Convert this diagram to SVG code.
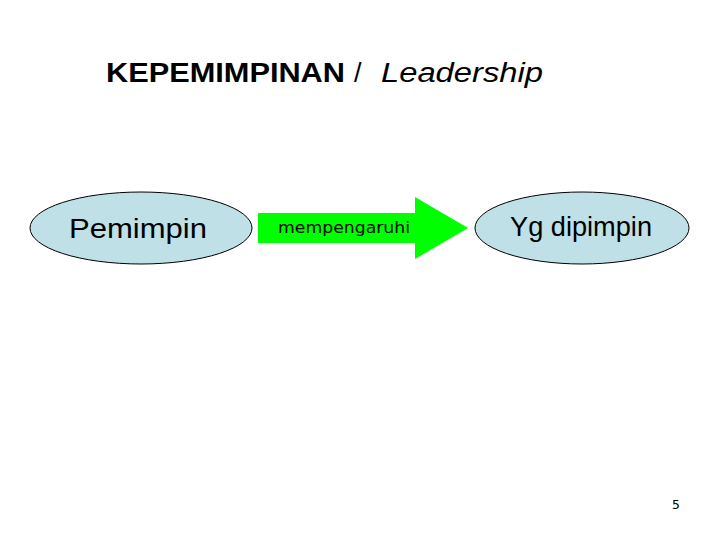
<svg xmlns="http://www.w3.org/2000/svg" width="720" height="540" viewBox="0 0 720 540">
<style>
.node{fill:#bfe0e6;stroke:#000;stroke-width:1}
.lbl{font-family:"Liberation Sans",Arial,sans-serif;font-size:28px;fill:#000}
.title{font-family:"Liberation Sans",Arial,sans-serif;font-size:27px;fill:#000}
.arrow{fill:#00ff00;stroke:none}
</style>
<rect width="720" height="540" fill="#fff"/>
<text class="title" y="82"><tspan x="106" font-weight="bold" textLength="239" lengthAdjust="spacingAndGlyphs">KEPEMIMPINAN</tspan><tspan x="354">/</tspan><tspan x="381" font-style="italic" textLength="162" lengthAdjust="spacingAndGlyphs">Leadership</tspan></text>
<g id="pemimpin">
<ellipse class="node" cx="141" cy="228" rx="111" ry="36"/>
<text class="lbl" x="69" y="238" textLength="138" lengthAdjust="spacingAndGlyphs">Pemimpin</text>
</g>
<g id="connectors">
<g id="mempengaruhi">
<polygon class="arrow" points="258,213 415,213 415,197 468,228 415,259 415,243 258,243"/>
<text x="278" y="233" font-family="DejaVu Sans,Verdana,sans-serif" font-size="16" textLength="132" lengthAdjust="spacingAndGlyphs" fill="#000">mempengaruhi</text>
</g>
</g>
<g id="yg-dipimpin">
<ellipse class="node" cx="582" cy="228" rx="107" ry="36"/>
<text class="lbl" x="510" y="236" textLength="142" lengthAdjust="spacingAndGlyphs">Yg dipimpin</text>
</g>
<text x="676" y="509" font-family="DejaVu Sans Mono,monospace" font-size="13" text-anchor="middle" fill="#000">5</text>
</svg>
